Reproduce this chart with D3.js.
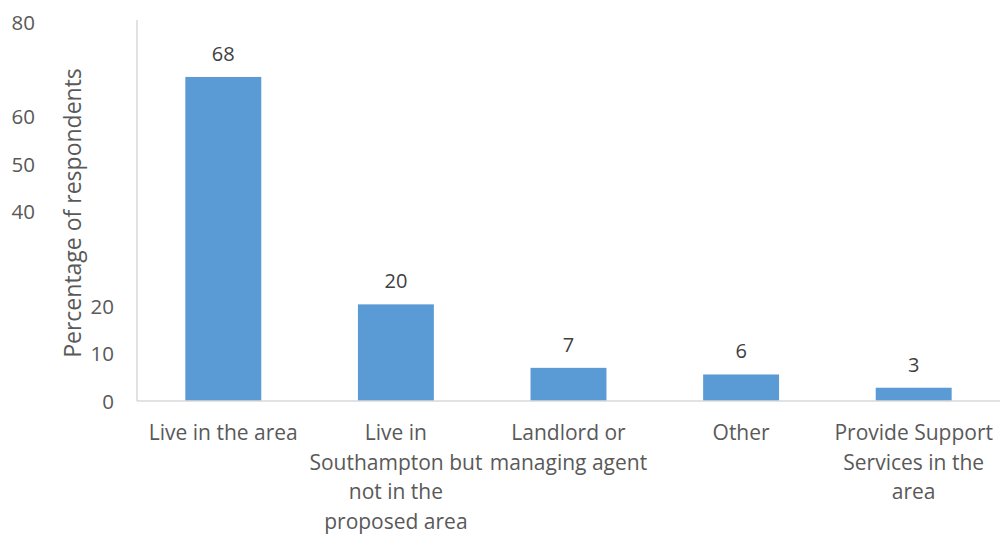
<!DOCTYPE html>
<html><head><meta charset="utf-8">
<script src="https://cdn.jsdelivr.net/npm/d3@7"></script>
<style>body{margin:0;background:#fff}svg{display:block}</style>
</head><body>
<svg id="c" width="1002" height="534"></svg>
<script>
const categories = ["Live in the area", "Live in\nSouthampton but\nnot in the\nproposed area", "Landlord or\nmanaging agent", "Other", "Provide Support\nServices in the\narea"];
const values = [68.4, 20.4, 7, 5.6, 2.8];
const valueLabels = ["68", "20", "7", "6", "3"];
const yTicksUpper = [40, 50, 60, 80];
const yTicksLower = [0, 10, 20];
const yTitle = "Percentage of respondents";

const svg = d3.select("#c");
const font = "Open Sans, sans-serif";
const textColor = "#595959";
const m = {left: 137, right: 1000, top: 22, bottom: 401};

const x = d3.scaleBand().domain(categories).range([m.left, m.right]).paddingInner(0.56).paddingOuter(0.28);
const y = d3.scaleLinear().domain([0, 80]).range([m.bottom, m.top]);

// y axis line
svg.append("line").attr("x1", m.left).attr("x2", m.left).attr("y1", 20).attr("y2", m.bottom)
  .attr("stroke", "#d9d9d9").attr("stroke-width", 1.5);

// bars
svg.selectAll("rect.bar").data(values).join("rect")
  .attr("x", (d, i) => x(categories[i]))
  .attr("width", x.bandwidth())
  .attr("y", d => y(d))
  .attr("height", d => y(0) - y(d))
  .attr("fill", "#5b9bd5");

svg.append("line").attr("x1", m.left).attr("x2", m.right).attr("y1", m.bottom).attr("y2", m.bottom)
  .attr("stroke", "#d9d9d9").attr("stroke-width", 1.5);

// value labels
svg.selectAll("text.val").data(values).join("text")
  .attr("x", (d, i) => x(categories[i]) + x.bandwidth() / 2)
  .attr("y", d => y(d) - 16)
  .attr("text-anchor", "middle")
  .attr("font-family", font).attr("font-size", 20).attr("fill", "#404040")
  .text((d, i) => valueLabels[i]);

// y ticks (two groups, as laid out in the original)
function tickGroup(vals, xpos) {
  const ax = d3.axisLeft(y).tickValues(vals).tickSize(0).tickPadding(0).tickFormat(d3.format("d"));
  const g = svg.append("g").attr("transform", `translate(${xpos},0)`).call(ax);
  g.select(".domain").remove();
  g.selectAll("text").attr("font-family", font).attr("font-size", 20.5).attr("fill", textColor).attr("dy", "0.35em");
}
tickGroup(yTicksUpper, 35);
tickGroup(yTicksLower, 114);

// y title
svg.append("text").attr("transform", "translate(81,213) rotate(-90)")
  .attr("text-anchor", "middle").attr("font-family", font).attr("font-size", 23).attr("fill", textColor)
  .text(yTitle);

// category labels
categories.forEach(c => {
  const t = svg.append("text").attr("text-anchor", "middle")
    .attr("font-family", font).attr("font-size", 21).attr("fill", textColor);
  c.split("\n").forEach((line, j) => {
    t.append("tspan").attr("x", x(c) + x.bandwidth() / 2).attr("y", 440 + j * 29.5).text(line);
  });
});
</script>
</body></html>
